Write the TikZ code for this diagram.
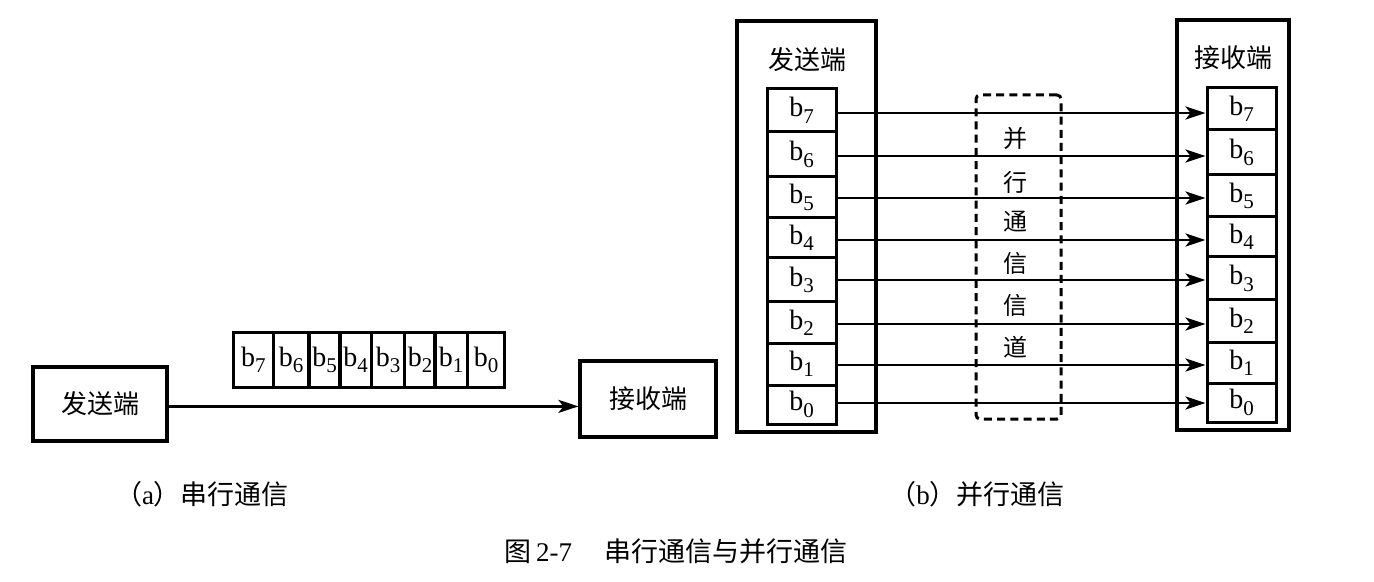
\documentclass[tikz,border=0pt]{standalone}
\usepackage{fontspec}
\setmainfont{Liberation Serif}
\newfontfamily\cjk{Noto Sans CJK SC}
\usetikzlibrary{arrows.meta}
\newcommand{\bsb}[1]{b\raisebox{-0.5ex}{\fontsize{10.5pt}{10.5pt}\selectfont #1}}
\begin{document}
\begin{tikzpicture}[x=0.5pt,y=-0.5pt,
  box/.style={draw,line width=1.6pt,inner sep=0pt},
  cell/.style={draw,line width=1.5pt,inner sep=0pt,minimum width=34.5pt,font=\fontsize{14pt}{14pt}\selectfont},
  scell/.style={draw,line width=1.5pt,inner sep=0pt,minimum height=27.5pt,font=\fontsize{14pt}{14pt}\selectfont},
  cjklab/.style={inner sep=0pt,font=\cjk\fontsize{13pt}{13pt}\selectfont},
  chanlab/.style={inner sep=0pt,font=\cjk\fontsize{12pt}{12pt}\selectfont},
  arr/.style={line width=1.4pt,-{Stealth[length=10pt,width=6.5pt,inset=2.5pt]}},
  chanbox/.style={draw,line width=1.5pt,dash pattern=on 4pt off 2.6pt,rounded corners=2pt,inner sep=0pt}
]
\useasboundingbox (0,0) rectangle (1374,582);

% (a) serial
\node[box,minimum width=67pt,minimum height=37pt,cjklab] (sendA) at (100,404) {发送端};
\node[box,minimum width=68pt,minimum height=38pt,cjklab] (recvA) at (648,399) {接收端};
\foreach \cx/\w/\d in {253.3/20.3/7,291/17.7/6,324.5/15.5/5,355.5/15.9/4,388/16.5/3,420/15.2/2,451.2/16.3/1,486/18.7/0}
  \node[scell,minimum width=\w pt] (sA\d) at (\cx,360) {\bsb{\d}};
\draw[arr] ([yshift=-1.2pt]sendA.east) -- ([yshift=-1.2pt]sendA.east -| recvA.west);

% (b) parallel
\node[box,minimum width=69.5pt,minimum height=205.5pt] (sendB) at (806.5,226.5) {};
\node[cjklab] (sendBl) at (807,60) {发送端};
\node[box,minimum width=56pt,minimum height=205pt] (recvB) at (1233,225) {};
\node[cjklab] (recvBl) at (1233,58) {接收端};

\foreach \cy/\h/\d in {110.5/21.5/7,154.5/22.5/6,197.5/20.5/5,238/20/4,280/22/3,322.5/20.5/2,364/21/1,404.5/19.5/0}
  \node[cell,minimum height=\h pt] (L\d) at (801.5,\cy) {\bsb{\d}};
\foreach \cy/\h/\d in {109/21/7,152.5/22.5/6,196/21/5,237/20/4,278.5/21.5/3,321/21/2,362.5/20.5/1,402.5/19.5/0}
  \node[cell,minimum height=\h pt] (R\d) at (1241.5,\cy) {\bsb{\d}};

\node[chanbox,minimum width=42.5pt,minimum height=162pt] (chan) at (1018.5,257) {};

\foreach \d/\s in {7/-1.25,6/-0.75,5/-0.25,4/-1,3/0,2/-0.75,1/-0.5,0/0.75}
  \draw[arr] ([yshift=\s pt]L\d.east) -- ([yshift=\s pt]L\d.east -| R\d.west);

\foreach \c/\yy [count=\i] in {并/138,行/182,通/222,信/263,信/305,道/347}
  \node[chanlab] (ch\i) at (1015,\yy) {\c};

% captions
\node[cjklab,font=\cjk\fontsize{13.5pt}{13.5pt}\selectfont] (capa) at (202,494) {（{\rmfamily a}）串行通信};
\node[cjklab,font=\cjk\fontsize{13.5pt}{13.5pt}\selectfont] (capb) at (977,494) {（{\rmfamily b}）并行通信};
\node[cjklab,font=\cjk\fontsize{13.5pt}{13.5pt}\selectfont] (fig) at (676,551) {图\,{\rmfamily 2-7}\hspace{1.2em}串行通信与并行通信};
\end{tikzpicture}
\end{document}
